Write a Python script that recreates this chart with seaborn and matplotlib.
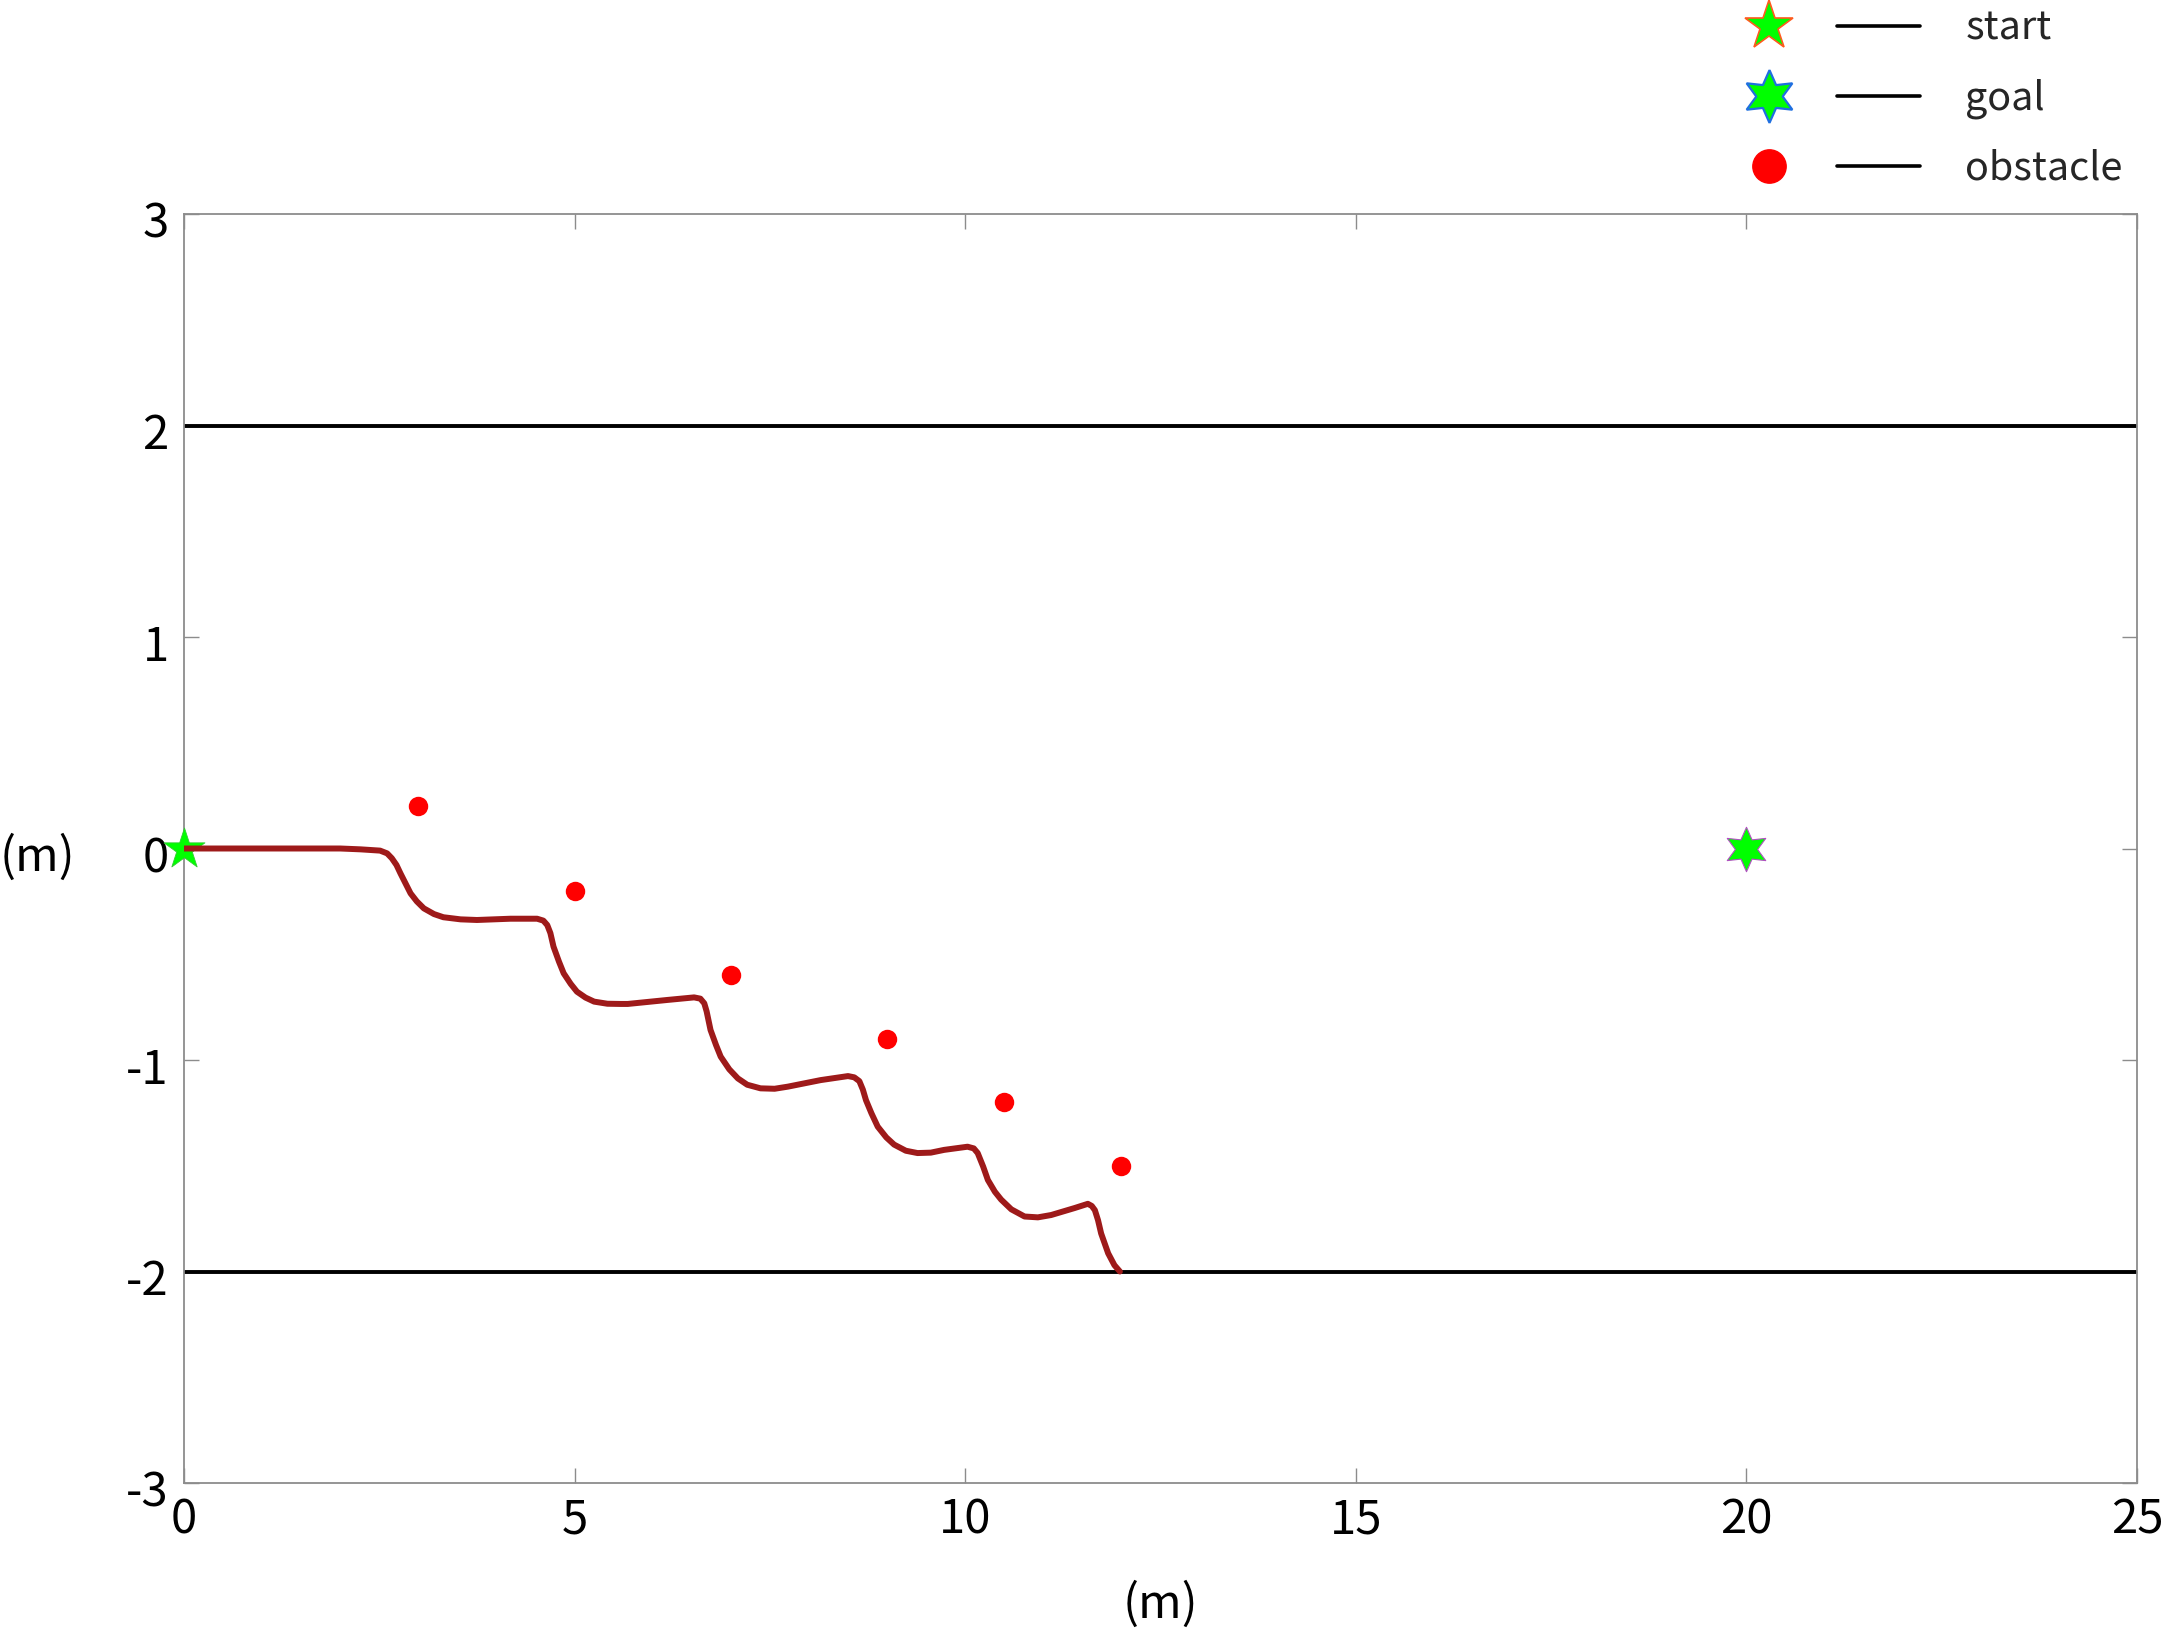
import numpy as np
import pandas as pd
import matplotlib
matplotlib.use("Agg")
import matplotlib.pyplot as plt
import matplotlib.transforms as mtransforms
import seaborn as sns
from matplotlib.lines import Line2D
from matplotlib.legend_handler import HandlerTuple

# ---------------- data ----------------
path_x = [0.0, 1.0, 2.0, 2.26, 2.51, 2.60, 2.66, 2.72, 2.77, 2.90, 2.98, 3.07, 3.20,
          3.32, 3.54, 3.75, 4.18, 4.52, 4.60, 4.65, 4.69, 4.73, 4.80, 4.86, 4.95,
          5.03, 5.14, 5.25, 5.42, 5.59, 5.68, 6.19, 6.53, 6.61, 6.66, 6.69, 6.74,
          6.81, 6.87, 6.98, 7.09, 7.21, 7.38, 7.56, 7.73, 8.15, 8.50, 8.58, 8.645,
          8.69, 8.73, 8.80, 8.88, 8.99, 9.09, 9.24, 9.39, 9.56, 9.73, 10.03, 10.11,
          10.16, 10.23, 10.29, 10.38, 10.46, 10.59, 10.76, 10.93, 11.10, 11.40,
          11.57, 11.62, 11.66, 11.70, 11.74, 11.83, 11.91, 11.98]
path_y = [0.0, 0.0, 0.0, -0.004, -0.01, -0.023, -0.046, -0.078, -0.117, -0.212,
          -0.25, -0.283, -0.31, -0.325, -0.335, -0.338, -0.332, -0.332, -0.341,
          -0.362, -0.40, -0.464, -0.535, -0.59, -0.64, -0.677, -0.705, -0.724,
          -0.734, -0.735, -0.735, -0.716, -0.704, -0.71, -0.732, -0.77, -0.858,
          -0.929, -0.984, -1.044, -1.087, -1.117, -1.134, -1.136, -1.126, -1.095,
          -1.076, -1.082, -1.10, -1.14, -1.19, -1.252, -1.315, -1.366, -1.40,
          -1.429, -1.44, -1.438, -1.425, -1.41, -1.418, -1.44, -1.504, -1.567,
          -1.623, -1.66, -1.706, -1.74, -1.744, -1.733, -1.70, -1.68, -1.69, -1.71,
          -1.757, -1.82, -1.914, -1.97, -2.0]
obstacle_x = [3, 5, 7, 9, 10.5, 12]
obstacle_y = [0.2, -0.2, -0.6, -0.9, -1.2, -1.5]
start_x, start_y = [0], [0]
goal_x, goal_y = [20], [0]
boundary_y = [2, -2]
x_ticks = [0, 5, 10, 15, 20, 25]
y_ticks = [-3, -2, -1, 0, 1, 2, 3]
legend_labels = ["start", "goal", "obstacle"]

# ---------------- style ----------------
sns.set_theme(style="white")
plt.rcParams["font.family"] = ["Noto Sans CJK SC", "DejaVu Sans"]
plt.rcParams["axes.unicode_minus"] = False

W, H = 2165, 1629
fig = plt.figure(figsize=(W / 100, H / 100), dpi=100)
ax = fig.add_axes([184 / W, 1 - 1483 / H, (2137 - 184) / W, (1483 - 214) / H])

path_df = pd.DataFrame({"x": path_x, "y": path_y})
obs_df = pd.DataFrame({"x": obstacle_x, "y": obstacle_y})

# boundaries
for yb in boundary_y:
    ax.axhline(yb, color="black", lw=2.8, zorder=2)

# start star (below path)
sns.scatterplot(x=start_x, y=start_y, ax=ax, marker="*", s=31 ** 2,
                color="#00FF00", edgecolor="#33cc33", linewidth=0.6,
                zorder=3, clip_on=False, legend=False)

# path
sns.lineplot(data=path_df, x="x", y="y", ax=ax, sort=False, estimator=None,
             color="#9E1A1A", linewidth=4.3, zorder=4, legend=False,
             solid_joinstyle="round", solid_capstyle="round")
path_line = ax.lines[-1]
path_line.set_linewidth(4.3)

# obstacles
sns.scatterplot(data=obs_df, x="x", y="y", ax=ax, marker="o", s=14 ** 2,
                color="#FF0000", edgecolor="#FF0000", linewidth=0,
                zorder=5, legend=False)

# goal hexagram
sns.scatterplot(x=goal_x, y=goal_y, ax=ax, marker=(6, 1, 0), s=32 ** 2,
                color="#00FF00", edgecolor="#B050C0", linewidth=0.8,
                zorder=5, legend=False)

ax.set_xlim(0, 25)
ax.set_ylim(-3, 3)
ax.set_xticks(x_ticks)
ax.set_yticks(y_ticks)
ax.set_xticklabels([str(t) for t in x_ticks])
ax.set_yticklabels([str(t) for t in y_ticks])

spine_c = "#8c8c8c"
for sp in ax.spines.values():
    sp.set_color(spine_c)
    sp.set_linewidth(1.3)
    sp.set_visible(True)
ax.tick_params(direction="in", length=11, width=1.0, color=spine_c,
               top=True, right=True, bottom=True, left=True,
               labelsize=34, labelcolor="black")
ax.tick_params(axis="x", pad=9)
ax.tick_params(axis="y", pad=11)

# nudge y tick labels slightly down
off = mtransforms.ScaledTranslation(0, -5 / 100, fig.dpi_scale_trans)
for lbl in ax.get_yticklabels():
    lbl.set_transform(lbl.get_transform() + off)

ax.set_xlabel("(m)", fontsize=34, labelpad=26, color="black")
ax.set_ylabel("(m)", fontsize=34, rotation=0, color="black", ha="center", va="center")
ax.yaxis.set_label_coords((37 - 184) / (2137 - 184), (1483 - 858) / (1483 - 214))

# ---------------- legend ----------------
line_h = Line2D([], [], color="black", lw=2.6)
h_start = Line2D([], [], marker="*", ms=37, mfc="#00FF00", mec="#FF5A1E", mew=1.2, ls="none")
h_goal = Line2D([], [], marker=(6, 1, 0), ms=38, mfc="#00FF00", mec="#1F6FE0", mew=1.6, ls="none")
h_obs = Line2D([], [], marker="o", ms=24, mfc="#FF0000", mec="#FF0000", ls="none")

fs = 28.5
leg = fig.legend([(h_start, line_h), (h_goal, line_h), (h_obs, line_h)], legend_labels,
                 handler_map={tuple: HandlerTuple(ndivide=None, pad=0.675)},
                 loc="upper left", bbox_to_anchor=(1727 / W, 1 - 9 / H),
                 bbox_transform=fig.transFigure, frameon=False, fontsize=fs,
                 handlelength=4.875, handletextpad=1.15, labelspacing=0.75,
                 borderpad=0, borderaxespad=0, numpoints=1)

fig.savefig("out.png", dpi=100, facecolor="white")
